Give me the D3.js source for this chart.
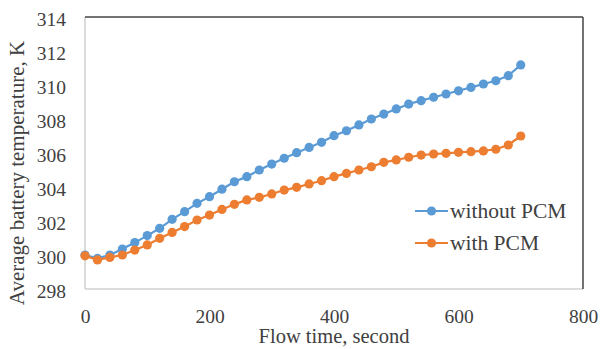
<!DOCTYPE html>
<html>
<head>
<script src="https://cdnjs.cloudflare.com/ajax/libs/d3/7.8.5/d3.min.js"></script>
<style>
  body { margin: 0; background: #fff; }
  svg { display: block; font-family: "Liberation Serif", "Times New Roman", serif; }
  .tick text { fill: #404040; }
</style>
</head>
<body>
<svg width="604" height="349"></svg>
<script>
// flow time in seconds, one sample every 20 s
var times = d3.range(0, 701, 20);
var withoutPCM = [300.0, 299.8, 300.0, 300.35, 300.73, 301.14, 301.57, 302.1, 302.55, 303.04,
  303.43, 303.87, 304.31, 304.61, 305.0, 305.35, 305.69, 306.02, 306.33, 306.63,
  307.02, 307.31, 307.65, 308.0, 308.29, 308.59, 308.88, 309.08, 309.28, 309.47,
  309.66, 309.86, 310.06, 310.25, 310.55, 311.18];
var withPCM = [299.95, 299.71, 299.86, 300.0, 300.29, 300.59, 300.98, 301.33, 301.67, 302.06,
  302.35, 302.68, 302.98, 303.24, 303.39, 303.59, 303.82, 303.98, 304.18, 304.37,
  304.61, 304.8, 305.0, 305.19, 305.45, 305.59, 305.75, 305.88, 305.94, 305.98,
  306.04, 306.08, 306.12, 306.22, 306.47, 307.0];
var xTicks = [0, 200, 400, 600, 800];
var yTicks = [298, 300, 302, 304, 306, 308, 310, 312, 314];
var seriesNames = ["without PCM", "with PCM"];
var colors = ["#5b9bd5", "#ed7d31"];

var svg = d3.select("svg");
var m = { left: 85, right: 583, top: 17, bottom: 289 };

var x = d3.scaleLinear().domain([0, 800]).range([m.left, m.right]);
var y = d3.scaleLinear().domain([298, 314]).range([m.bottom, m.top]);

// plot frame: light left/bottom, dark top/right
svg.append("line").attr("x1", m.left).attr("x2", m.left).attr("y1", m.top).attr("y2", m.bottom)
  .attr("stroke", "#d0d0d0").attr("stroke-width", 1.5);
svg.append("line").attr("x1", m.left).attr("x2", m.right).attr("y1", m.bottom).attr("y2", m.bottom)
  .attr("stroke", "#d0d0d0").attr("stroke-width", 1.5);
svg.append("line").attr("x1", m.left).attr("x2", m.right).attr("y1", m.top).attr("y2", m.top)
  .attr("stroke", "#444").attr("stroke-width", 1.5);
svg.append("line").attr("x1", m.right).attr("x2", m.right).attr("y1", m.top).attr("y2", m.bottom)
  .attr("stroke", "#444").attr("stroke-width", 1.5);

var xAxis = svg.append("g").attr("transform", "translate(0," + m.bottom + ")")
  .call(d3.axisBottom(x).tickValues(xTicks).tickSize(0).tickPadding(20));
var yAxis = svg.append("g").attr("transform", "translate(" + m.left + ",0)")
  .call(d3.axisLeft(y).tickValues(yTicks).tickSize(0).tickPadding(19));
[xAxis, yAxis].forEach(function(a){
  a.select(".domain").remove();
  a.selectAll("text").attr("font-size", 19.5).attr("font-family", "Liberation Serif");
});
yAxis.selectAll("text").attr("dy", "0.45em");

var line = d3.line().x(function(d){ return x(d[0]); }).y(function(d){ return y(d[1]); });
[withoutPCM, withPCM].forEach(function(vals, i){
  var pts = times.map(function(t, j){ return [t, vals[j]]; });
  var g = svg.append("g");
  g.append("path").datum(pts).attr("d", line).attr("fill", "none")
    .attr("stroke", colors[i]).attr("stroke-width", 2.2);
  g.selectAll("circle").data(pts).enter().append("circle")
    .attr("cx", function(d){ return x(d[0]); })
    .attr("cy", function(d){ return y(d[1]); })
    .attr("r", 4.6).attr("fill", colors[i]);
});

// legend
var legend = svg.append("g");
seriesNames.forEach(function(name, i){
  var ly = 211 + i * 32;
  legend.append("line").attr("x1", 415).attr("x2", 448).attr("y1", ly).attr("y2", ly)
    .attr("stroke", colors[i]).attr("stroke-width", 2.2);
  legend.append("circle").attr("cx", 431.5).attr("cy", ly).attr("r", 4.6).attr("fill", colors[i]);
  legend.append("text").attr("x", 450).attr("y", ly + 7).attr("font-size", 21.5)
    .attr("fill", "#404040").text(name);
});

svg.append("text").attr("x", 334).attr("y", 343)
  .attr("text-anchor", "middle").attr("font-size", 20.5).attr("fill", "#404040")
  .text("Flow time, second");
svg.append("text").attr("transform", "translate(24,173) rotate(-90)")
  .attr("text-anchor", "middle").attr("font-size", 21).attr("fill", "#404040")
  .text("Average battery temperature, K");
</script>
</body>
</html>
